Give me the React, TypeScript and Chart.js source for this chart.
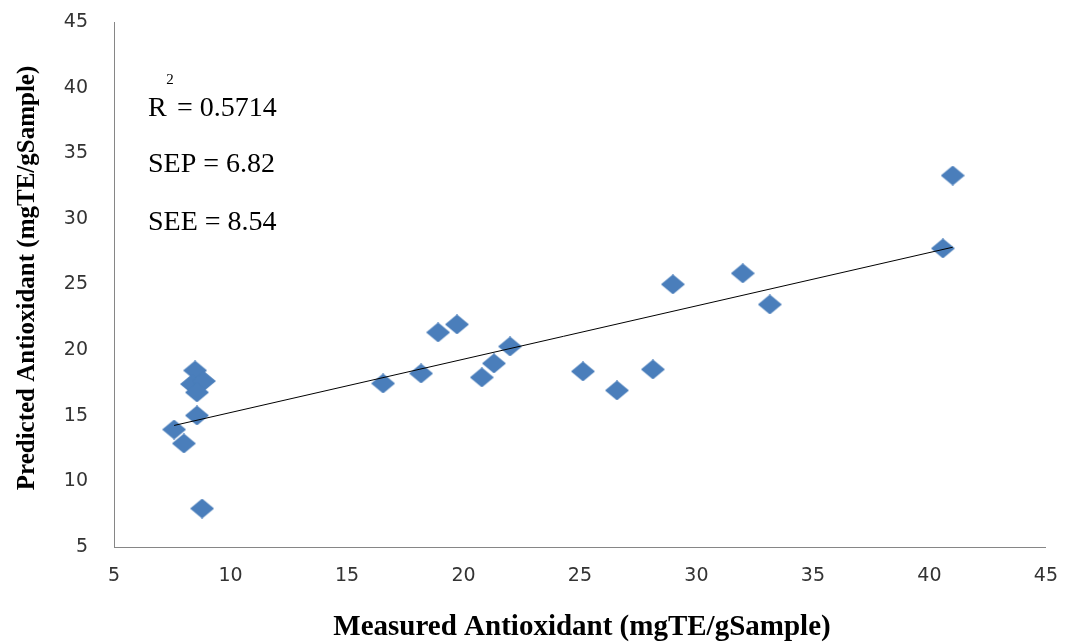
import React, { useEffect, useRef } from "react";
import { Chart, registerables } from "chart.js";

Chart.register(...registerables);

const measured = [8.48, 8.35, 8.86, 8.56, 8.56, 7.58, 8.0, 8.78, 16.55, 18.18, 18.91, 19.72, 22.0, 21.31, 20.79, 25.13, 26.59, 28.13, 28.99, 31.99, 33.15, 40.58, 41.0];
const predicted = [18.45, 17.41, 17.64, 16.78, 15.02, 13.95, 12.89, 7.93, 17.46, 18.22, 21.35, 21.96, 20.28, 18.99, 17.92, 18.38, 16.93, 18.53, 25.01, 25.85, 23.48, 27.75, 33.3];
const trendX = [7.58, 41.0];
const trendY = [14.26, 27.84];
const axisMin = 5;
const axisMax = 45;
const axisStep = 5;
const xTitle = "Measured Antioxidant (mgTE/gSample)";
const yTitle = "Predicted Antioxidant (mgTE/gSample)";
const statsLines = ["SEP = 6.82", "SEE = 8.54"];
const r2Text = "= 0.5714";

function makeDiamond(): HTMLCanvasElement {
  const c = document.createElement("canvas");
  const w = 24, h = 20;
  c.width = w;
  c.height = h;
  const g = c.getContext("2d")!;
  g.fillStyle = "#4A7EBB";
  g.beginPath();
  g.moveTo(w / 2, 0);
  g.lineTo(w, h / 2);
  g.lineTo(w / 2, h);
  g.lineTo(0, h / 2);
  g.closePath();
  g.fill();
  return c;
}

const textPlugin = {
  id: "textOverlay",
  afterDraw(chart: any) {
    const ctx = chart.ctx;
    ctx.save();
    ctx.fillStyle = "#000";
    // x title
    ctx.font = "bold 29px 'Liberation Serif', 'Times New Roman', serif";
    ctx.textAlign = "center";
    ctx.textBaseline = "middle";
    ctx.fillText(xTitle, 582, 628);
    // y title
    ctx.save();
    ctx.translate(28, 278);
    ctx.rotate(-Math.PI / 2);
    ctx.font = "bold 25px 'Liberation Serif', 'Times New Roman', serif";
    ctx.fillText(yTitle, 0, 0);
    ctx.restore();
    // stats
    ctx.textAlign = "left";
    ctx.textBaseline = "alphabetic";
    ctx.font = "28px 'Liberation Serif', 'Times New Roman', serif";
    ctx.fillText("R", 148, 116);
    ctx.fillText(r2Text, 177, 116);
    ctx.fillText(statsLines[0], 148, 172);
    ctx.fillText(statsLines[1], 148, 230);
    ctx.font = "15px 'Liberation Serif', 'Times New Roman', serif";
    ctx.textAlign = "center";
    ctx.textBaseline = "middle";
    ctx.fillText("2", 170, 80);
    ctx.restore();
  },
};

export default function App() {
  const ref = useRef<HTMLCanvasElement>(null);
  useEffect(() => {
    const diamond = makeDiamond();
    const points = measured.map((x, i) => ({ x, y: predicted[i] }));
    const trend = trendX.map((x, i) => ({ x, y: trendY[i] }));
    const tickFont = { family: "'DejaVu Sans', sans-serif", size: 19 };
    const chart = new Chart(ref.current!, {
      type: "scatter",
      data: {
        datasets: [
          {
            type: "line",
            data: trend,
            borderColor: "#000",
            borderWidth: 1,
            pointRadius: 0,
            fill: false,
            order: 0,
          } as any,
          {
            data: points,
            pointStyle: diamond,
            pointRadius: 11,
            backgroundColor: "#4A7EBB",
            borderColor: "#4A7EBB",
            order: 1,
          } as any,
        ],
      },
      options: {
        animation: false,
        responsive: true,
        maintainAspectRatio: false,
        layout: { padding: { top: 22, right: 26, left: 0, bottom: 0 } },
        plugins: { legend: { display: false }, tooltip: { enabled: false } },
        scales: {
          x: {
            type: "linear",
            min: axisMin,
            max: axisMax,
            ticks: { stepSize: axisStep, font: tickFont, color: "#333333", padding: 18 },
            grid: { display: false, drawTicks: false },
            border: { display: true, color: "#868686", width: 1 },
            afterFit: (s: any) => {
              s.height = 97;
            },
          },
          y: {
            type: "linear",
            min: axisMin,
            max: axisMax,
            ticks: { stepSize: axisStep, font: tickFont, color: "#333333", padding: 0 },
            grid: { display: false, drawTicks: true, tickLength: 26, tickColor: "rgba(0,0,0,0)" },
            border: { display: true, color: "#868686", width: 1 },
            afterFit: (s: any) => {
              s.width = 114;
            },
          },
        },
      },
      plugins: [textPlugin],
    });
    return () => chart.destroy();
  }, []);
  return (
    <div style={{ position: "absolute", left: 0, top: 0, width: 1076, height: 644, background: "#fff" }}>
      <canvas ref={ref} />
    </div>
  );
}
